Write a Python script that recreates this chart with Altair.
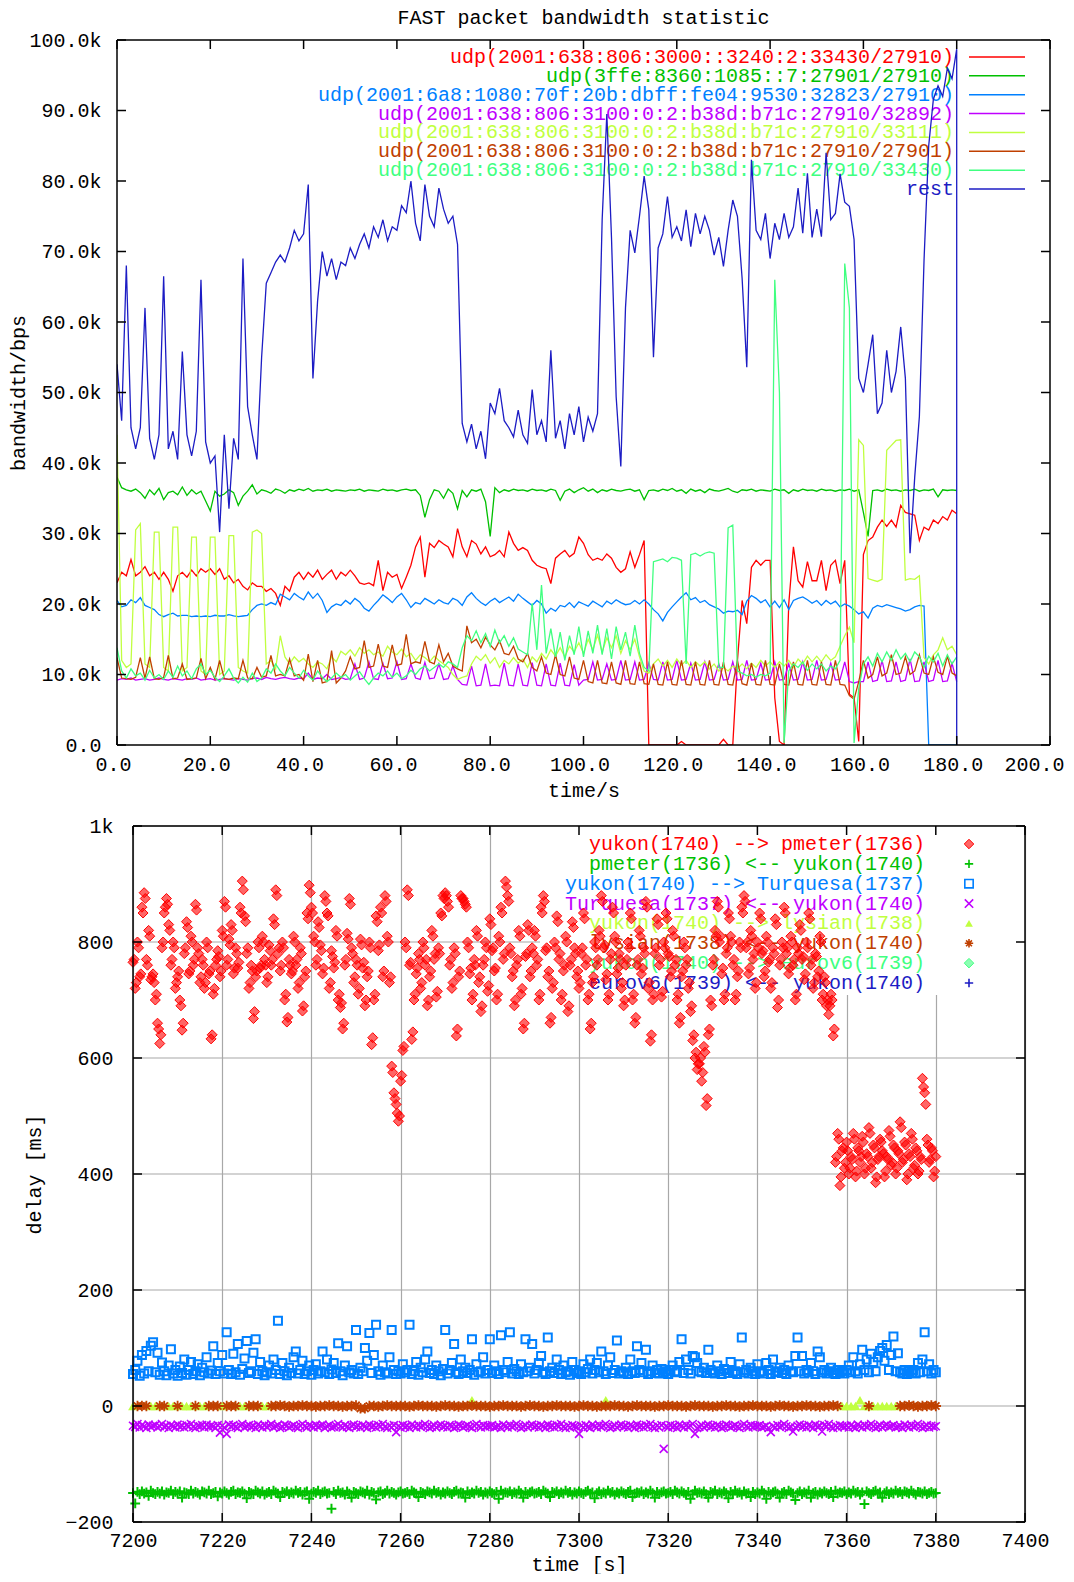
import altair as alt
import pandas as pd

N = None
FONT = "Liberation Mono"

# ---------------- top chart: bandwidth (k bps), one reading per second from t=0 ----------------
BW_RED = [
    23.0, 24.5, 24.0, 26.3, 24.0, 24.5, 25.3, 24.0, 24.5, 23.5,
    24.5, 23.5, 21.8, 24.0, 24.5, 23.8, 24.8, 24.0, 25.0, 24.5,
    25.0, 24.2, 25.0, 23.5, 24.0, 23.0, 23.5, 22.5, 22.0, 23.0,
    22.5, 22.5, 21.8, 22.2, 21.5, 19.8, 22.5, 21.8, 23.8, 24.5,
    23.5, 24.5, 23.8, 24.8, 23.5, 24.2, 24.8, 23.5, 24.5, 24.0,
    24.8, 24.0, 23.0, 22.8, 23.0, 22.6, 26.2, 21.9, 24.5, 23.8,
    24.2, 22.2, 23.8, 25.5, 28.1, 29.5, 23.8, 28.6, 28.0, 29.0,
    28.5, 28.1, 26.7, 30.7, 28.1, 26.7, 29.0, 28.5, 27.1, 28.1,
    26.7, 27.0, 27.6, 26.7, 30.2, 28.6, 27.6, 28.0, 27.6, 26.2,
    25.5, 25.2, 25.0, 22.9, 26.5, 27.1, 27.6, 26.7, 27.2, 29.5,
    28.6, 27.0, 26.2, 26.5, 26.2, 27.1, 26.5, 25.2, 24.5, 25.0,
    27.4, 25.2, 27.0, 29.0, 0.0, 0.0, 0.0, 0.0, 0.0, 0.0,
    0.0, 0.5, 0.0, 0.0, 0.0, 0.0, 0.0, 0.0, 0.0, 0.0,
    0.8, 0.0, 0.0, 12.0, 20.5, 17.2, 25.2, 26.2, 25.5, 26.2,
    26.2, 6.7, 0.5, 0.0, 20.0, 28.1, 23.3, 22.4, 26.0, 23.3,
    23.3, 26.2, 21.9, 25.5, 26.2, 22.9, 26.2, 7.2, 6.7, 0.5,
    27.0, 29.0, 29.5, 30.9, 31.9, 31.0, 31.9, 30.9, 34.0, 33.0,
    32.8, 32.6, 29.0, 30.9, 30.5, 31.9, 31.4, 32.4, 31.9, 33.3,
    32.8]
BW_GREEN = [
    38.0, 36.5, 36.2, 36.0, 36.3, 35.8, 35.0, 36.2, 35.5, 36.4,
    34.8, 35.8, 36.0, 35.5, 36.6, 35.4, 36.2, 35.6, 36.0, 34.6,
    33.2, 36.0, 35.3, 35.6, 36.2, 35.8, 34.0, 35.3, 36.0, 36.9,
    35.6, 36.2, 36.0, 35.7, 36.3, 36.1, 35.7, 36.2, 36.0, 36.3,
    36.1, 36.4, 36.0, 36.2, 36.1, 36.3, 36.0, 36.2, 36.1, 36.0,
    36.2, 36.1, 36.3, 36.0, 36.2, 36.1, 36.0, 36.3, 36.1, 36.2,
    36.0, 36.2, 36.3, 36.1, 36.2, 35.4, 32.3, 34.8, 36.2, 36.0,
    35.0, 36.3, 35.7, 33.5, 36.1, 35.2, 36.2, 36.0, 36.3, 34.5,
    29.6, 36.5, 35.8, 36.2, 36.0, 36.3, 36.1, 36.2, 36.0, 36.3,
    36.1, 36.2, 36.0, 36.3, 36.1, 34.7, 36.0, 36.3, 35.8, 36.2,
    36.5, 36.0, 36.3, 35.8, 36.2, 36.0, 36.3, 36.1, 36.0, 36.2,
    36.3, 36.0, 36.2, 34.8, 36.1, 36.2, 36.0, 36.3, 36.1, 36.4,
    36.0, 36.2, 35.7, 36.3, 36.0, 36.2, 35.8, 36.3, 36.1, 36.0,
    36.2, 36.4, 36.0, 35.8, 36.2, 36.1, 36.3, 36.0, 36.2, 36.1,
    36.0, 36.3, 36.1, 36.2, 35.7, 36.2, 36.0, 36.3, 36.1, 36.2,
    36.0, 36.3, 36.1, 36.2, 36.0, 36.2, 36.1, 36.3, 36.0, 36.2,
    33.0, 29.6, 36.1, 36.2, 36.0, 36.3, 36.1, 36.2, 36.0, 36.2,
    36.1, 36.3, 36.0, 36.2, 36.1, 36.3, 35.2, 36.2, 36.1, 36.2,
    36.1]
BW_BLUE = [
    20.5, 19.6, 19.8, 20.6, 20.2, 20.9, 19.8, 19.5, 19.2, 18.5,
    18.2, 18.5, 18.7, 18.3, 18.4, 18.4, 18.2, 18.3, 18.2, 18.3,
    18.2, 18.4, 18.3, 18.3, 18.5, 18.3, 18.2, 18.3, 18.4, 19.2,
    19.8, 20.0, 19.8, 20.2, 19.9, 21.4, 21.0, 20.6, 21.5, 21.0,
    20.6, 21.7, 20.8, 21.5, 20.5, 18.8, 19.6, 20.0, 19.8, 20.5,
    20.0, 20.8, 20.3, 19.4, 19.0, 19.8, 20.5, 21.3, 20.8, 20.2,
    21.0, 21.5, 20.6, 19.5, 20.2, 20.0, 20.8, 20.4, 20.0, 20.6,
    20.2, 20.0, 20.8, 20.5, 19.8, 21.0, 21.6, 20.8, 20.2, 19.8,
    20.4, 20.8, 20.2, 20.6, 21.0, 20.4, 21.4, 20.8, 20.3, 19.8,
    20.5, 20.0, 18.7, 19.4, 19.0, 19.8, 19.6, 20.2, 19.5, 20.3,
    20.0, 19.7, 20.4, 20.0, 19.6, 20.4, 20.0, 20.6, 20.2, 19.9,
    20.0, 20.5, 20.0, 20.6, 20.0, 19.2, 18.6, 17.6, 18.8, 19.6,
    20.3, 21.0, 21.6, 20.6, 20.9, 20.2, 20.5, 19.9, 19.6, 19.3,
    18.7, 19.0, 18.9, 19.1, 18.5, 20.4, 21.2, 20.8, 20.2, 20.6,
    19.6, 20.4, 19.5, 20.6, 19.2, 20.5, 20.8, 21.0, 20.6, 20.1,
    20.5, 19.8, 20.5, 20.0, 20.4, 19.6, 20.0, 19.7, 19.2, 18.6,
    18.9, 18.0, 19.4, 19.8, 19.6, 19.9, 19.7, 19.5, 19.3, 19.0,
    19.2, 19.6, 19.8, 19.7, 0.0, 0.0, 0.0, 0.0, 0.0, 0.0,
    0.0]
BW_MAGENTA = [
    9.2, 9.4, 9.3, 9.5, 9.2, 9.3, 9.4, 9.2, 9.3, 9.5,
    9.3, 9.2, 9.4, 9.3, 9.2, 9.4, 9.3, 9.5, 9.2, 9.3,
    9.4, 9.2, 9.3, 9.4, 9.3, 9.2, 9.4, 9.3, 9.2, 9.4,
    9.5, 9.3, 9.6, 9.4, 9.3, 9.5, 9.6, 9.4, 9.3, 9.5,
    9.4, 10.2, 9.3, 9.5, 9.4, 10.0, 9.3, 9.4, 9.6, 9.3,
    9.4, 11.5, 9.3, 9.5, 11.8, 9.4, 9.3, 11.6, 9.4, 9.5,
    11.8, 9.3, 9.4, 11.5, 9.5, 9.3, 11.7, 9.4, 9.5, 11.5,
    9.3, 9.4, 11.2, 9.3, 8.6, 8.5, 11.2, 8.4, 8.5, 11.5,
    8.4, 8.5, 8.4, 11.6, 8.5, 8.4, 11.5, 8.5, 8.4, 11.7,
    8.5, 8.4, 11.5, 8.5, 8.4, 11.6, 8.5, 8.4, 11.4, 8.5,
    9.2, 9.3, 11.8, 9.2, 9.3, 11.5, 9.2, 9.3, 12.0, 9.2,
    9.3, 11.8, 9.2, 9.3, 11.6, 9.3, 9.2, 11.8, 9.2, 9.3,
    12.0, 9.2, 9.3, 11.6, 9.2, 9.3, 11.8, 9.2, 9.3, 11.5,
    9.2, 9.3, 11.8, 9.2, 9.3, 12.0, 9.2, 9.3, 11.6, 9.2,
    9.3, 11.8, 9.2, 9.3, 11.5, 9.2, 9.3, 11.8, 9.2, 9.3,
    12.0, 9.2, 9.3, 11.6, 9.2, 9.3, 11.8, 9.0, 8.8, 9.0,
    9.0, 11.8, 9.0, 9.2, 12.0, 9.0, 9.1, 11.8, 9.0, 9.2,
    12.2, 9.0, 9.1, 11.8, 9.0, 9.2, 12.0, 9.0, 9.1, 11.6,
    9.0]
BW_YELLOW = [
    44.0, 12.0, 11.0, 11.5, 30.5, 31.4, 11.5, 11.0, 30.2, 30.2,
    11.0, 10.5, 30.9, 30.9, 10.5, 11.0, 29.5, 29.5, 10.5, 10.0,
    29.5, 29.5, 10.0, 10.5, 29.7, 29.7, 11.0, 10.5, 10.2, 30.2,
    30.5, 30.0, 11.5, 12.0, 10.8, 15.5, 12.5, 11.5, 12.5, 11.8,
    12.3, 11.5, 11.0, 11.8, 11.5, 10.8, 12.5, 11.8, 13.3, 12.8,
    13.5, 12.6, 13.8, 13.0, 13.5, 12.8, 13.2, 12.6, 14.0, 13.2,
    12.8, 13.6, 12.5, 13.0, 12.0, 12.8, 12.4, 11.8, 12.6, 12.0,
    11.5, 11.0, 10.0, 9.3, 9.6, 9.8, 11.5, 12.6, 12.0, 12.8,
    11.6, 12.4, 11.0, 12.0, 11.5, 12.4, 11.6, 12.2, 11.0, 12.5,
    11.8, 13.0, 12.2, 13.5, 12.6, 13.8, 12.5, 14.0, 13.2, 14.5,
    13.0, 15.0, 13.5, 15.6, 13.2, 15.2, 13.8, 15.5, 13.0, 14.8,
    13.5, 15.0, 12.5, 10.5, 10.2, 11.5, 12.2, 11.2, 12.0, 11.0,
    12.2, 11.3, 12.0, 11.0, 11.8, 11.2, 11.8, 10.8, 11.5, 10.5,
    11.0, 10.5, 11.2, 10.8, 11.5, 10.8, 11.6, 11.0, 12.0, 11.2,
    11.8, 11.0, 11.8, 11.2, 12.0, 11.0, 12.2, 11.5, 12.6, 11.8,
    12.6, 11.8, 12.8, 12.0, 12.5, 14.0, 15.5, 16.7, 14.5, 43.3,
    42.5, 23.6, 23.4, 23.2, 23.5, 41.8, 42.5, 43.2, 43.3, 23.4,
    23.6, 23.5, 24.0, 12.4, 11.5, 12.8, 13.5, 15.2, 13.5, 14.0,
    12.8]
BW_BROWN = [
    12.4, 9.5, 9.4, 9.3, 9.6, 12.4, 9.5, 12.5, 9.4, 9.3,
    9.6, 12.7, 9.4, 9.5, 11.5, 9.3, 9.4, 9.5, 12.3, 9.4,
    11.0, 9.3, 12.0, 9.4, 9.3, 9.5, 9.4, 12.0, 9.5, 9.4,
    11.0, 9.6, 9.8, 12.7, 9.8, 10.0, 9.8, 12.2, 9.8, 10.0,
    9.2, 12.9, 9.0, 12.0, 8.8, 9.0, 13.4, 8.8, 9.5, 10.5,
    12.5, 10.8, 11.0, 14.8, 11.0, 11.2, 14.3, 11.2, 11.0, 14.2,
    11.3, 11.5, 15.7, 11.5, 11.8, 11.6, 14.7, 11.8, 11.5, 14.2,
    11.8, 13.0, 11.2, 10.8, 10.5, 16.9, 14.5, 15.0, 13.8, 15.3,
    14.2, 13.5, 14.8, 13.0, 12.8, 14.0, 12.2, 11.8, 13.0, 11.0,
    10.5, 12.5, 10.2, 10.0, 12.8, 10.0, 9.8, 12.5, 9.5, 9.3,
    12.0, 9.0, 8.8, 12.0, 8.8, 8.7, 11.8, 8.8, 8.6, 12.0,
    8.7, 8.6, 11.8, 8.7, 8.6, 11.5, 8.6, 8.5, 11.8, 8.6,
    8.5, 12.0, 8.6, 8.5, 11.8, 8.6, 8.5, 12.0, 8.6, 8.5,
    11.8, 8.6, 8.5, 12.0, 8.7, 8.5, 11.6, 8.6, 8.5, 12.0,
    8.6, 8.5, 11.5, 8.6, 8.5, 11.8, 8.6, 8.5, 12.0, 8.6,
    8.5, 11.8, 8.6, 8.5, 12.0, 8.6, 8.5, 7.0, 6.5, 9.0,
    12.0, 9.5, 10.0, 12.5, 9.8, 10.2, 12.8, 10.0, 10.2, 12.5,
    10.0, 10.5, 12.8, 10.2, 10.0, 12.5, 10.3, 10.0, 12.6, 10.2,
    9.8]
BW_MINT = [
    13.8, 10.5, 9.5, 10.8, 9.8, 10.2, 9.2, 10.6, 9.5, 10.0,
    9.3, 10.5, 9.6, 11.2, 9.8, 10.5, 9.4, 10.8, 11.5, 10.0,
    10.6, 9.6, 9.0, 9.8, 10.8, 9.5, 8.8, 9.6, 8.9, 10.2,
    9.0, 9.5, 10.8, 10.2, 11.5, 10.5, 9.8, 11.0, 10.2, 9.5,
    10.6, 9.8, 9.2, 10.5, 9.6, 9.0, 9.5, 10.2, 9.6, 10.0,
    9.2, 9.8, 10.4, 9.4, 8.6, 9.5, 10.2, 9.8, 10.5, 9.6,
    10.2, 9.4, 9.8, 10.6, 10.0, 10.8, 11.2, 10.5, 11.0, 11.5,
    11.0, 11.8, 11.5, 11.0, 13.8, 15.5, 14.8, 16.2, 14.5, 15.8,
    14.0, 16.3, 14.5, 15.5, 14.0, 15.2, 13.6, 13.2, 12.8, 20.1,
    13.5, 22.7, 13.0, 16.5, 12.5, 16.0, 12.0, 15.5, 12.8, 16.8,
    12.5, 16.2, 13.0, 17.0, 12.8, 16.5, 12.2, 16.8, 13.5, 16.0,
    12.6, 17.0, 13.0, 11.0, 10.5, 26.0, 26.2, 26.4, 26.0, 26.6,
    26.5, 26.2, 11.5, 27.0, 27.2, 26.8, 27.2, 27.4, 27.2, 11.0,
    11.0, 30.8, 31.2, 10.5, 10.2, 9.8, 10.0, 9.6, 10.0, 9.8,
    10.2, 66.0, 50.0, 0.3, 10.5, 11.5, 11.0, 11.8, 10.6, 11.5,
    10.8, 11.5, 10.5, 11.2, 10.8, 12.0, 68.3, 62.0, 0.3, 8.0,
    11.5, 12.5, 11.2, 13.0, 11.8, 13.2, 12.0, 13.5, 12.2, 13.0,
    11.8, 13.2, 12.5, 11.0, 12.6, 11.8, 13.0, 11.2, 12.8, 11.5,
    12.5]
BW_REST = [
    54.0, 46.0, 68.0, 45.0, 42.0, 45.0, 62.0, 43.5, 40.5, 44.0,
    66.5, 42.0, 44.5, 40.5, 55.8, 44.0, 41.0, 44.5, 66.0, 43.0,
    40.0, 41.0, 30.2, 44.0, 33.5, 43.5, 40.5, 69.0, 48.0, 44.0,
    40.5, 55.0, 65.5, 67.0, 68.5, 69.5, 68.5, 70.5, 73.0, 71.5,
    72.5, 79.5, 52.0, 63.0, 70.0, 66.5, 69.0, 66.0, 68.5, 68.0,
    70.5, 69.0, 71.0, 72.5, 70.5, 73.5, 72.0, 74.5, 71.5, 73.5,
    73.0, 76.5, 75.5, 80.0, 74.0, 71.5, 79.5, 75.0, 73.5, 79.0,
    76.0, 74.0, 75.0, 71.0, 45.6, 43.0, 45.5, 42.0, 44.5, 40.6,
    48.5, 47.0, 50.6, 46.0, 45.0, 43.7, 47.5, 44.0, 42.8, 50.4,
    44.0, 46.0, 43.0, 56.0, 43.5, 46.0, 42.0, 47.0, 44.0, 48.0,
    43.0, 46.5, 44.5, 47.0, 74.5, 89.5, 72.0, 49.4, 39.5, 62.0,
    73.0, 69.8, 75.0, 80.7, 75.9, 55.0, 70.5, 72.5, 77.8, 72.0,
    73.5, 71.5, 75.9, 70.7, 75.4, 72.5, 75.0, 73.0, 69.5, 72.0,
    67.9, 73.0, 77.3, 75.0, 66.2, 53.6, 83.0, 73.0, 71.7, 75.4,
    69.0, 74.0, 71.7, 75.4, 72.0, 73.5, 79.0, 72.6, 81.1, 72.0,
    76.0, 72.1, 84.0, 74.5, 75.4, 81.0, 77.0, 76.4, 71.7, 52.0,
    50.0, 54.0, 58.2, 47.0, 48.5, 56.0, 50.0, 53.0, 59.3, 52.0,
    27.2, 38.0, 46.6, 68.8, 85.0, 91.6, 93.5, 92.0, 96.0, 94.5,
    98.7]
BW_REST_TAIL = [0.0]  # the "rest" curve falls to zero at its last second

TOP_SERIES = [BW_RED, BW_GREEN, BW_BLUE, BW_MAGENTA, BW_YELLOW, BW_BROWN, BW_MINT, BW_REST]
TOP_LABELS = [
    "udp(2001:638:806:3000::3240:2:33430/27910)",
    "udp(3ffe:8360:1085::7:27901/27910)",
    "udp(2001:6a8:1080:70f:20b:dbff:fe04:9530:32823/27910)",
    "udp(2001:638:806:3100:0:2:b38d:b71c:27910/32892)",
    "udp(2001:638:806:3100:0:2:b38d:b71c:27910/33111)",
    "udp(2001:638:806:3100:0:2:b38d:b71c:27910/27901)",
    "udp(2001:638:806:3100:0:2:b38d:b71c:27910/33430)",
    "rest",
]
COLORS = ["#ff0000", "#00c000", "#0080ff", "#c000ff", "#c0ff40", "#c04000", "#40ff80", "#1c1cc4"]
TOP_X_TICKS = [0, 20, 40, 60, 80, 100, 120, 140, 160, 180, 200]
TOP_Y_TICKS = [0, 10, 20, 30, 40, 50, 60, 70, 80, 90, 100]

# ---------------- bottom chart: delay [ms] ----------------
# yukon -> pmeter, two readings per second from 7200.0 s (set A) and from 7200.25 s (set B)
RED_DELAY_A = [
    765, 720, 800, 740, 860, 885, 770, 820, 735, 745, 700, 660, 625, 790, 850, 875, 830, 760, 800, 720,
    740, 700, 648, 780, 835, 745, 810, 760, 865, 790, 730, 770, 720, 800, 745, 633, 710, 760, 785, 740,
    820, 870, 760, 805, 830, 745, 790, 755, 860, 905, 845, 780, 720, 760, 668, 740, 800, 755, 810, 770,
    730, 795, 760, 840, 890, 780, 750, 800, 700, 662, 770, 745, 810, 760, 720, 790, 681, 740, 850, 898,
    860, 810, 760, 835, 795, 745, 880, 850, 720, 785, 755, 820, 700, 687, 650, 760, 815, 875, 790, 730,
    770, 710, 805, 755, 690, 740, 800, 623, 700, 845, 785, 860, 740, 880, 810, 730, 586, 540, 520, 491,
    560, 613, 800, 890, 760, 632, 700, 745, 780, 720, 800, 760, 690, 740, 820, 770, 705, 790, 850, 880,
    885, 870, 760, 720, 790, 638, 740, 880, 875, 865, 800, 745, 700, 770, 820, 730, 680, 760, 800, 715,
    840, 785, 750, 700, 810, 860, 770, 905, 880, 790, 740, 690, 760, 820, 710, 650, 775, 830, 740, 790,
    820, 760, 700, 860, 880, 785, 740, 660, 720, 800, 845, 770, 700, 750, 810, 680, 760, 835, 790, 740,
    720, 780, 850, 760, 700, 650, 730, 800, 760, 820, 880, 790, 735, 700, 770, 860, 810, 745, 780, 720,
    690, 760, 800, 850, 700, 660, 760, 820, 745, 790, 870, 720, 629, 700, 780, 840, 760, 705, 800, 850,
    780, 740, 820, 760, 700, 660, 740, 800, 760, 720, 680, 630, 600, 580, 590, 560, 620, 518, 640, 700,
    760, 820, 870, 800, 745, 700, 780, 850, 810, 760, 700, 740, 800, 860, 880, 790, 745, 820, 770, 720,
    800, 850, 780, 740, 810, 765, 720, 790, 840, 687, 760, 800, 860, 780, 745, 810, 760, 700, 790, 830,
    770, 735, 800, 850, 760, 720, 780, 740, 810, 700, 740, 690, 675, 710, 638,
    420, 470, 380, 440, 410, 455, 400, 430, 470, 395, 445, 420, 465, 400, 435, 480, 410, 450, 385, 425,
    460, 440, 395, 430, 475, 415, 450, 400, 440, 490, 420, 455, 390, 435, 470, 410, 445, 400, 430, 565,
    540, 460, 420, 445, 395, 430]
RED_DELAY_B = [
    770, 730, 790, 745, 850, 875, 760, 810, 740, 730, 710, 650, 640, 800, 860, 865, 820, 770, 790, 730,
    750, 690, 660, 790, 825, 750, 800, 770, 855, 780, 740, 760, 730, 790, 750, 640, 720, 770, 775, 750,
    810, 860, 770, 795, 820, 755, 780, 765, 850, 890, 835, 790, 730, 750, 680, 750, 790, 760, 800, 760,
    740, 785, 770, 830, 880, 790, 760, 790, 710, 670, 760, 750, 800, 770, 730, 780, 690, 750, 840, 885,
    850, 800, 770, 825, 785, 755, 870, 845, 730, 775, 765, 810, 710, 695, 660, 770, 805, 865, 780, 740,
    760, 720, 795, 765, 700, 750, 790, 635, 710, 835, 795, 850, 750, 870, 800, 740, 575, 530, 505, 500,
    570, 620, 790, 880, 765, 645, 710, 755, 770, 730, 790, 770, 700, 750, 810, 780, 715, 780, 845, 875,
    880, 860, 770, 730, 780, 650, 750, 875, 870, 860, 790, 755, 710, 760, 810, 740, 690, 770, 790, 725,
    830, 790, 755, 710, 800, 850, 780, 895, 870, 780, 750, 700, 770, 810, 720, 660, 780, 820, 750, 780,
    810, 770, 710, 850, 870, 790, 750, 670, 730, 790, 835, 780, 710, 760, 800, 690, 770, 825, 780, 750,
    730, 790, 840, 770, 710, 660, 740, 790, 770, 810, 870, 795, 745, 710, 780, 850, 800, 755, 770, 730,
    700, 770, 790, 840, 710, 670, 770, 810, 755, 780, 860, 730, 640, 710, 790, 830, 770, 715, 790, 840,
    775, 750, 810, 770, 710, 670, 750, 790, 770, 730, 690, 640, 610, 590, 600, 575, 610, 530, 650, 690,
    770, 810, 860, 810, 755, 710, 790, 840, 800, 770, 710, 750, 790, 850, 870, 800, 755, 810, 780, 730,
    790, 840, 785, 750, 800, 770, 730, 780, 830, 700, 770, 790, 850, 790, 755, 800, 770, 710, 780, 820,
    775, 745, 790, 840, 770, 730, 775, 750, 800, 710, 730, 700, 690, 700, 650,
    430, 460, 395, 445, 420, 440, 410, 425, 460, 405, 440, 430, 455, 410, 430, 470, 420, 445, 395, 430,
    455, 435, 405, 425, 465, 420, 445, 410, 435, 480, 425, 450, 400, 430, 460, 415, 440, 405, 425, 550,
    520, 450, 425, 440, 405]
BLUE_DELAY = [
    55, 62, 78, 52, 88, 56, 95, 60, 104, 110, 58, 92, 54, 75, 60, 53, 70, 98, 56, 62,
    52, 68, 57, 80, 54, 62, 76, 55, 60, 72, 53, 66, 58, 84, 56, 61, 103, 55, 74, 60,
    88, 56, 127, 62, 55, 90, 58, 107, 54, 64, 82, 112, 57, 60, 92, 115, 55, 76, 60, 53,
    58, 70, 56, 80, 62, 147, 55, 74, 60, 53, 66, 57, 84, 94, 56, 62, 78, 55, 60, 70,
    54, 62, 72, 56, 60, 94, 58, 80, 55, 63, 74, 57, 108, 60, 53, 70, 103, 58, 62, 56,
    131, 55, 66, 60, 100, 78, 126, 57, 88, 140, 60, 54, 70, 58, 56, 84, 131, 62, 55, 60,
    56, 72, 58, 62, 140, 55, 60, 76, 54, 66, 58, 80, 94, 57, 62, 55, 70, 60, 53, 64,
    131, 56, 62, 74, 107, 58, 55, 80, 60, 66, 57, 62, 115, 54, 72, 58, 60, 84, 56, 62,
    115, 57, 70, 60, 55, 122, 62, 58, 76, 127, 56, 64, 60, 55, 72, 58, 115, 60, 66, 107,
    56, 62, 74, 86, 58, 55, 118, 60, 66, 57, 80, 62, 55, 70, 58, 60, 54, 76, 62, 57,
    60, 55, 72, 58, 64, 80, 56, 62, 74, 58, 94, 60, 55, 70, 84, 57, 62, 113, 56, 60,
    58, 66, 55, 80, 60, 57, 103, 62, 74, 58, 97, 55, 60, 70, 57, 62, 56, 64, 58, 60,
    55, 62, 70, 58, 60, 76, 115, 57, 80, 62, 56, 86, 84, 74, 60, 58, 66, 57, 97, 62,
    58, 56, 70, 60, 55, 64, 62, 57, 76, 58, 60, 55, 72, 118, 58, 62, 56, 66, 60, 55,
    72, 58, 60, 56, 74, 62, 55, 80, 58, 60, 66, 57, 62, 55, 70, 60, 58, 86, 118, 60,
    86, 56, 62, 58, 74, 60, 55, 94, 84, 58, 62, 56, 60, 66, 57, 55, 62, 58, 60, 56,
    62, 70, 58, 84, 60, 56, 72, 97, 62, 80, 58, 90, 76, 60, 84, 95, 100, 78, 105, 62,
    88, 120, 60, 91, 58, 56, 62, 55, 60, 57, 62, 56, 74, 58, 80, 127, 60, 72, 56, 62,
    58]
GREEN_DELAY = [
    -150, -168, -148, -152, -147, -151, -149, -155, -146, -150, -152, -148, -151, -147, -153, -149, -150, -146, -152, -148,
    -151, -147, -158, -149, -150, -152, -146, -151, -148, -150, -153, -147, -149, -151, -146, -152, -150, -148, -156, -149,
    -151, -147, -150, -153, -148, -146, -152, -149, -150, -147, -151, -159, -148, -150, -152, -146, -149, -151, -147, -153,
    -150, -148, -152, -146, -149, -151, -157, -148, -150, -147, -152, -149, -151, -146, -150, -148, -153, -149, -147, -160,
    -151, -148, -150, -146, -152, -149, -147, -151, -150, -177, -148, -152, -146, -150, -149, -153, -147, -151, -158, -148,
    -150, -152, -147, -149, -151, -146, -153, -148, -150, -161, -149, -147, -152, -150, -146, -151, -148, -150, -153, -149,
    -147, -151, -150, -148, -152, -146, -149, -151, -157, -148, -150, -152, -147, -149, -151, -146, -150, -148, -153, -149,
    -151, -147, -150, -152, -148, -146, -151, -149, -150, -158, -147, -152, -149, -151, -146, -150, -148, -153, -149, -151,
    -147, -150, -152, -148, -160, -146, -151, -149, -150, -147, -152, -149, -151, -146, -150, -158, -148, -152, -149, -147,
    -151, -150, -148, -152, -146, -149, -151, -157, -148, -150, -147, -152, -149, -151, -146, -150, -148, -153, -149, -151,
    -147, -150, -152, -148, -146, -151, -149, -159, -150, -147, -152, -149, -151, -146, -150, -148, -153, -149, -151, -147,
    -150, -152, -148, -146, -157, -151, -149, -150, -147, -152, -149, -151, -146, -150, -158, -148, -152, -149, -147, -151,
    -150, -148, -152, -146, -149, -151, -147, -150, -153, -148, -160, -152, -146, -150, -149, -151, -147, -152, -158, -148,
    -150, -146, -152, -149, -151, -147, -150, -159, -148, -152, -146, -150, -149, -153, -147, -151, -150, -157, -148, -152,
    -149, -151, -146, -150, -160, -148, -152, -149, -147, -151, -158, -150, -148, -152, -146, -149, -151, -162, -150, -147,
    -152, -149, -151, -146, -158, -150, -148, -153, -149, -151, -147, -150, -152, -148, -157, -146, -151, -149, -150, -147,
    -152, -149, -151, -146, -150, -148, -153, -149, -169, -147, -150, -152, -148, -146, -151, -149, -158, -150, -147, -152,
    -149, -151, -146, -150, -148, -152, -147, -149, -151, -146, -150, -153, -148, -149, -151, -147, -152, -150, -148, -151,
    -150]
MAGENTA_DELAY = [
    -34, -36, -31, -37, -33, -35, -38, -32, -36, -34, -33, -37, -35, -31, -36, -34, -38, -33, -35, -37,
    -32, -36, -34, -37, -33, -35, -31, -36, -38, -34, -35, -33, -37, -32, -36, -34, -35, -38, -33, -46,
    -34, -37, -48, -32, -35, -33, -36, -38, -34, -31, -37, -35, -33, -36, -34, -38, -32, -35, -37, -33,
    -36, -34, -31, -37, -35, -33, -38, -36, -32, -34, -37, -35, -33, -36, -38, -34, -31, -35, -37, -33,
    -35, -37, -33, -36, -34, -32, -38, -35, -33, -37, -36, -34, -31, -35, -37, -33, -36, -38, -34, -32,
    -36, -34, -37, -33, -35, -38, -32, -36, -34, -37, -33, -35, -31, -36, -38, -34, -37, -33, -45, -35,
    -37, -33, -36, -34, -38, -32, -35, -37, -33, -36, -34, -31, -35, -38, -36, -33, -37, -34, -32, -36,
    -34, -37, -33, -35, -38, -36, -32, -34, -37, -35, -33, -36, -38, -34, -31, -35, -37, -33, -36, -34,
    -35, -33, -37, -36, -34, -38, -32, -35, -37, -33, -36, -34, -31, -35, -38, -36, -33, -37, -34, -32,
    -36, -34, -37, -33, -35, -38, -32, -36, -34, -37, -33, -35, -31, -36, -38, -34, -37, -33, -35, -36,
    -48, -34, -37, -33, -36, -38, -32, -35, -37, -33, -36, -34, -31, -35, -38, -36, -33, -37, -34, -32,
    -36, -34, -37, -33, -35, -38, -32, -36, -34, -37, -33, -35, -31, -36, -38, -34, -37, -33, -74, -35,
    -37, -33, -36, -34, -38, -32, -35, -37, -33, -36, -34, -31, -48, -38, -36, -33, -37, -34, -32, -36,
    -34, -37, -33, -35, -38, -36, -32, -34, -37, -35, -33, -36, -38, -34, -31, -35, -37, -33, -36, -34,
    -35, -33, -37, -36, -34, -38, -45, -35, -37, -33, -36, -34, -31, -35, -38, -36, -44, -37, -34, -32,
    -36, -34, -37, -33, -35, -38, -32, -36, -34, -44, -33, -35, -31, -36, -38, -34, -37, -33, -35, -36,
    -34, -37, -33, -36, -38, -32, -35, -37, -33, -36, -34, -31, -35, -38, -36, -33, -37, -34, -32, -36,
    -35, -33, -37, -36, -34, -38, -32, -35, -37, -33, -36, -34, -31, -35, -38, -36, -33, -37, -34, -36,
    -35]
# one reading per second from 7200 s (None = no packet seen)
BROWN_DELAY = [
    N, 0, 0, 0, N, N, 0, 0, N, N,
    0, N, N, N, 0, N, N, 0, 0, 0,
    N, 0, 0, 0, N, N, 0, 0, 0, N,
    N, 0, 0, 1, 0, -1, 0, 0, 1, 0,
    0, -1, 0, 0, 1, 0, 0, -1, 0, 0,
    1, -4, -4, 0, 0, -1, 0, 1, 0, 0,
    0, 0, -1, 0, 1, 0, 0, 0, -1, 0,
    1, 0, 0, -1, 0, 0, 1, 0, 0, 0,
    -1, 0, 0, 1, 0, 0, 0, -1, 0, 1,
    0, 0, -1, 0, 0, 1, 0, 0, 0, -1,
    0, 1, 0, 0, -1, 0, 0, 0, 1, 0,
    0, -1, 0, 1, 0, 0, 0, -1, 0, 0,
    1, 0, 0, 0, -1, 0, 1, 0, 0, 0,
    -1, 0, 0, 1, 0, 0, -1, 0, 0, 1,
    0, 0, 0, -1, 0, 1, 0, 0, -1, 0,
    0, 1, 0, 0, -1, 0, 0, 1, 0, N,
    N, N, N, N, N, 0, N, N, N, N,
    N, N, 0, 0, 1, 0, -1, 0, 0, 1,
    0]
YELLOW_DELAY = [
    0, N, N, N, 0, 0, N, N, 0, 0,
    N, 0, 0, 0, N, 0, 0, N, N, N,
    0, N, N, N, 0, 0, N, N, N, 0,
    0, N, N, N, N, N, N, N, N, N,
    N, N, N, N, N, N, N, N, N, N,
    N, N, N, N, N, N, N, N, N, N,
    N, N, N, N, N, N, N, N, N, N,
    N, N, N, N, N, N, 10, N, N, N,
    N, N, N, N, N, N, N, N, N, N,
    N, N, N, N, N, N, N, N, N, N,
    N, N, N, N, N, N, 10, N, N, N,
    N, N, N, N, N, N, N, N, N, N,
    N, N, N, N, N, N, N, N, N, N,
    N, N, N, N, N, N, N, N, N, N,
    N, N, N, N, N, N, N, N, N, N,
    N, N, N, N, N, N, N, N, N, 0,
    0, 0, 0, 10, 0, 0, 0, 0, 0, 0,
    0, 0, N, N, N, N, N, N, N, N,
    N]

BOT_LABELS = [
    "yukon(1740) --> pmeter(1736)",
    "pmeter(1736) <-- yukon(1740)",
    "yukon(1740) --> Turquesa(1737)",
    "Turquesa(1737) <-- yukon(1740)",
    "yukon(1740) --> lysian(1738)",
    "lysian(1738) <-- yukon(1740)",
    "yukon(1740) --> eurov6(1739)",
    "eurov6(1739) <-- yukon(1740)",
]
BOT_X_TICKS = [7200, 7220, 7240, 7260, 7280, 7300, 7320, 7340, 7360, 7380, 7400]
BOT_Y_TICKS = [-200, 0, 200, 400, 600, 800, 1000]

PLUS = "M-1,0L1,0M0,-1L0,1"
CROSS = "M-1,-1L1,1M-1,1L1,-1"
ASTER = "M-1,0L1,0M0,-1L0,1M-0.7,-0.7L0.7,0.7M-0.7,0.7L0.7,-0.7"
BOT_SHAPES = ["diamond", PLUS, "square", CROSS, "triangle-up", ASTER, "diamond", PLUS]


def frame(vals, t0, step, tail=None):
    rows = [{"t": t0 + step * i, "v": v, "i": i} for i, v in enumerate(vals) if v is not None]
    if tail:
        last = t0 + step * (len(vals) - 1)
        for j, v in enumerate(tail):
            rows.append({"t": last, "v": v, "i": len(vals) + j})
    return pd.DataFrame(rows)


ONE = pd.DataFrame({"a": [0]})


def axis_common(**kw):
    base = dict(labelFont=FONT, labelFontSize=20, labelColor="black", titleFont=FONT,
                titleFontSize=20, titleFontWeight="normal", titleColor="black",
                ticks=False, tickSize=0, domain=False, labelOverlap=False)
    base.update(kw)
    return alt.Axis(**base)


def text_row(label, color, x, y):
    return alt.Chart(pd.DataFrame({"label": [label]})).mark_text(
        align="right", baseline="middle", font=FONT, fontSize=20, color=color
    ).encode(x=alt.value(x), y=alt.value(y), text="label:N")


BLACK = dict(color="black", strokeWidth=1.5)

# ====================== top chart ======================
W1, H1 = 933, 705
xs1 = alt.Scale(domain=[0, 200], nice=False, zero=False)
ys1 = alt.Scale(domain=[0, 100], nice=False)
xa1 = axis_common(
    values=TOP_X_TICKS, labelExpr="format(datum.value, '.1f')", title="time/s", grid=False,
    labelPadding=9, titlePadding=6, labelFlush=False, labelAngle=0,
    labelAlign={"condition": {"test": "datum.value == 200", "value": "right"}, "value": "center"},
    labelOffset={"condition": {"test": "datum.value == 200", "value": 14}, "value": -4})
ya1 = axis_common(values=TOP_Y_TICKS, orient="left",
                  labelExpr="datum.value == 0 ? '0.0' : format(datum.value, '.1f') + 'k'",
                  title="bandwidth/bps", grid=False, labelPadding=16, minExtent=88, maxExtent=88,
                  titlePadding=1)

top_layers = []
row_gap1 = (149 - 17) / 7.0
for k, (lab, col) in enumerate(zip(TOP_LABELS, COLORS)):
    yy = 17 + k * row_gap1
    top_layers.append(text_row(lab, col, 837, yy))
    top_layers.append(alt.Chart(ONE).mark_rule(color=col, strokeWidth=1.5).encode(
        x=alt.value(852), x2=alt.value(908), y=alt.value(yy)))

x1 = alt.X("t:Q", scale=xs1, axis=xa1)
y1 = alt.Y("v:Q", scale=ys1, axis=ya1)
for k, vals in enumerate(TOP_SERIES):
    df = frame(vals, 0, 1, BW_REST_TAIL if k == len(TOP_SERIES) - 1 else None)
    top_layers.append(alt.Chart(df).mark_line(color=COLORS[k], strokeWidth=1.3, clip=True).encode(
        x=x1, y=y1, order="i:Q"))

tx1 = alt.X("tick:Q", scale=xs1, axis=xa1)
ty1 = alt.Y("tick:Q", scale=ys1, axis=ya1)
xt1 = pd.DataFrame({"tick": TOP_X_TICKS})
yt1 = pd.DataFrame({"tick": TOP_Y_TICKS})
top_layers += [
    alt.Chart(xt1).mark_rule(**BLACK).encode(x=tx1, y=alt.value(H1 - 9), y2=alt.value(H1)),
    alt.Chart(xt1).mark_rule(**BLACK).encode(x=tx1, y=alt.value(0), y2=alt.value(9)),
    alt.Chart(yt1).mark_rule(**BLACK).encode(y=ty1, x=alt.value(0), x2=alt.value(9)),
    alt.Chart(yt1).mark_rule(**BLACK).encode(y=ty1, x=alt.value(W1 - 9), x2=alt.value(W1)),
    # frame
    alt.Chart(ONE).mark_rule(**BLACK).encode(x=alt.datum(0, scale=xs1, axis=xa1), y=alt.value(0), y2=alt.value(H1)),
    alt.Chart(ONE).mark_rule(**BLACK).encode(x=alt.datum(200), y=alt.value(0), y2=alt.value(H1)),
    alt.Chart(ONE).mark_rule(**BLACK).encode(y=alt.datum(0, scale=ys1, axis=ya1), x=alt.value(0), x2=alt.value(W1)),
    alt.Chart(ONE).mark_rule(**BLACK).encode(y=alt.datum(100), x=alt.value(0), x2=alt.value(W1)),
]

top = alt.layer(*top_layers).properties(
    width=W1, height=H1,
    title=alt.TitleParams("FAST packet bandwidth statistic", font=FONT, fontSize=20,
                          fontWeight="normal", color="black", offset=2, anchor="middle"))

# ====================== bottom chart ======================
# the view starts 16 px left of the plot frame so both panels share one left origin
W2, H2 = 908, 696
X0 = 16
xs2 = alt.Scale(domain=[7200, 7400], range=[X0, W2], nice=False, zero=False)
ys2 = alt.Scale(domain=[-200, 1000], nice=False, zero=False)
xa2 = axis_common(values=BOT_X_TICKS, format="d", title="time [s]", grid=True, gridColor="#a8a8a8",
                  gridWidth=1.2, labelPadding=8, titlePadding=4, labelFlush=False, labelAngle=0,
                  titleX=(X0 + W2) / 2)
ya2 = axis_common(values=BOT_Y_TICKS, orient="left",
                  labelExpr="datum.value == 1000 ? '1k' : format(datum.value, 'd')",
                  title="delay [ms]", grid=False, labelPadding=4, minExtent=52, maxExtent=52,
                  titlePadding=21)
x2 = alt.X("t:Q", scale=xs2, axis=xa2)
y2 = alt.Y("v:Q", scale=ys2, axis=ya2)
tx2 = alt.X("tick:Q", scale=xs2, axis=xa2)
ty2 = alt.Y("tick:Q", scale=ys2, axis=ya2)
xt2 = pd.DataFrame({"tick": BOT_X_TICKS})
yt2 = pd.DataFrame({"tick": BOT_Y_TICKS})
GRID = dict(color="#a8a8a8", strokeWidth=1.2)
RED_FILL = 0.6

bot_layers = [
    # horizontal grid lines inside the frame
    alt.Chart(yt2).mark_rule(**GRID).encode(y=ty2, x=alt.datum(7200, scale=xs2, axis=xa2), x2=alt.datum(7400)),
    # key area background
    alt.Chart(ONE).mark_rect(color="white").encode(
        x=alt.value(423), x2=alt.value(W2), y=alt.value(0), y2=alt.value(169)),
]
row_gap2 = (157 - 18) / 7.0
for k, (lab, col) in enumerate(zip(BOT_LABELS, COLORS)):
    yy = 18 + k * row_gap2
    bot_layers.append(text_row(lab, col, 808, yy))
for k, col in enumerate(COLORS):
    yy = 18 + k * row_gap2
    shp = BOT_SHAPES[k]
    if shp == "diamond":
        mk = alt.Chart(ONE).mark_point(shape=shp, filled=True, fill=col, fillOpacity=RED_FILL, stroke=col,
                                       strokeWidth=1, size=90, opacity=1)
    elif shp == "triangle-up":
        mk = alt.Chart(ONE).mark_point(shape=shp, filled=True, color=col, size=60, opacity=1)
    else:
        mk = alt.Chart(ONE).mark_point(shape=shp, filled=False, color=col, strokeWidth=1.6, size=70,
                                       opacity=1)
    bot_layers.append(mk.encode(x=alt.value(852), y=alt.value(yy)))

for reds, t0 in ((RED_DELAY_A, 7200.0), (RED_DELAY_B, 7200.25)):
    bot_layers.append(alt.Chart(frame(reds, t0, 0.5)).mark_point(
        shape="diamond", filled=True, fill=COLORS[0], fillOpacity=RED_FILL, stroke=COLORS[0],
        strokeWidth=1, size=100, opacity=1).encode(x=x2, y=y2))
bot_layers += [
    alt.Chart(frame(GREEN_DELAY, 7200, 0.5)).mark_point(
        shape=PLUS, filled=False, color=COLORS[1], strokeWidth=2, size=95, opacity=1).encode(x=x2, y=y2),
    alt.Chart(frame(BLUE_DELAY, 7200, 0.5)).mark_point(
        shape="square", filled=False, color=COLORS[2], strokeWidth=2, size=64, opacity=1).encode(x=x2, y=y2),
    alt.Chart(frame(MAGENTA_DELAY, 7200, 0.5)).mark_point(
        shape=CROSS, filled=False, color=COLORS[3], strokeWidth=1.6, size=64, opacity=1).encode(x=x2, y=y2),
    alt.Chart(frame(YELLOW_DELAY, 7200, 1)).mark_point(
        shape="triangle-up", filled=True, color=COLORS[4], size=95, opacity=1).encode(x=x2, y=y2),
    alt.Chart(frame(BROWN_DELAY, 7200, 1)).mark_point(
        shape=ASTER, filled=False, color=COLORS[5], strokeWidth=1.8, size=110, opacity=1).encode(x=x2, y=y2),
    # inward ticks
    alt.Chart(xt2).mark_rule(**BLACK).encode(x=tx2, y=alt.value(H2 - 9), y2=alt.value(H2)),
    alt.Chart(xt2).mark_rule(**BLACK).encode(x=tx2, y=alt.value(0), y2=alt.value(9)),
    alt.Chart(yt2).mark_tick(orient="horizontal", size=9, thickness=1.5, color="black", xOffset=4.5,
                             opacity=1).encode(y=ty2, x=alt.datum(7200)),
    alt.Chart(yt2).mark_tick(orient="horizontal", size=9, thickness=1.5, color="black", xOffset=-4.5,
                             opacity=1).encode(y=ty2, x=alt.datum(7400)),
    # frame
    alt.Chart(ONE).mark_rule(**BLACK).encode(x=alt.datum(7200), y=alt.value(0), y2=alt.value(H2)),
    alt.Chart(ONE).mark_rule(**BLACK).encode(x=alt.datum(7400), y=alt.value(0), y2=alt.value(H2)),
    alt.Chart(ONE).mark_rule(**BLACK).encode(y=alt.datum(-200), x=alt.datum(7200), x2=alt.datum(7400)),
    alt.Chart(ONE).mark_rule(**BLACK).encode(y=alt.datum(1000), x=alt.datum(7200), x2=alt.datum(7400)),
]

bottom = alt.layer(*bot_layers).properties(width=W2, height=H2)

chart = alt.vconcat(top, bottom, spacing=16).properties(
    padding={"left": 0, "top": 0, "right": 0, "bottom": 0}
).configure_view(stroke=None)

chart.save("out.html", embed_options={"renderer": "svg", "actions": False})
